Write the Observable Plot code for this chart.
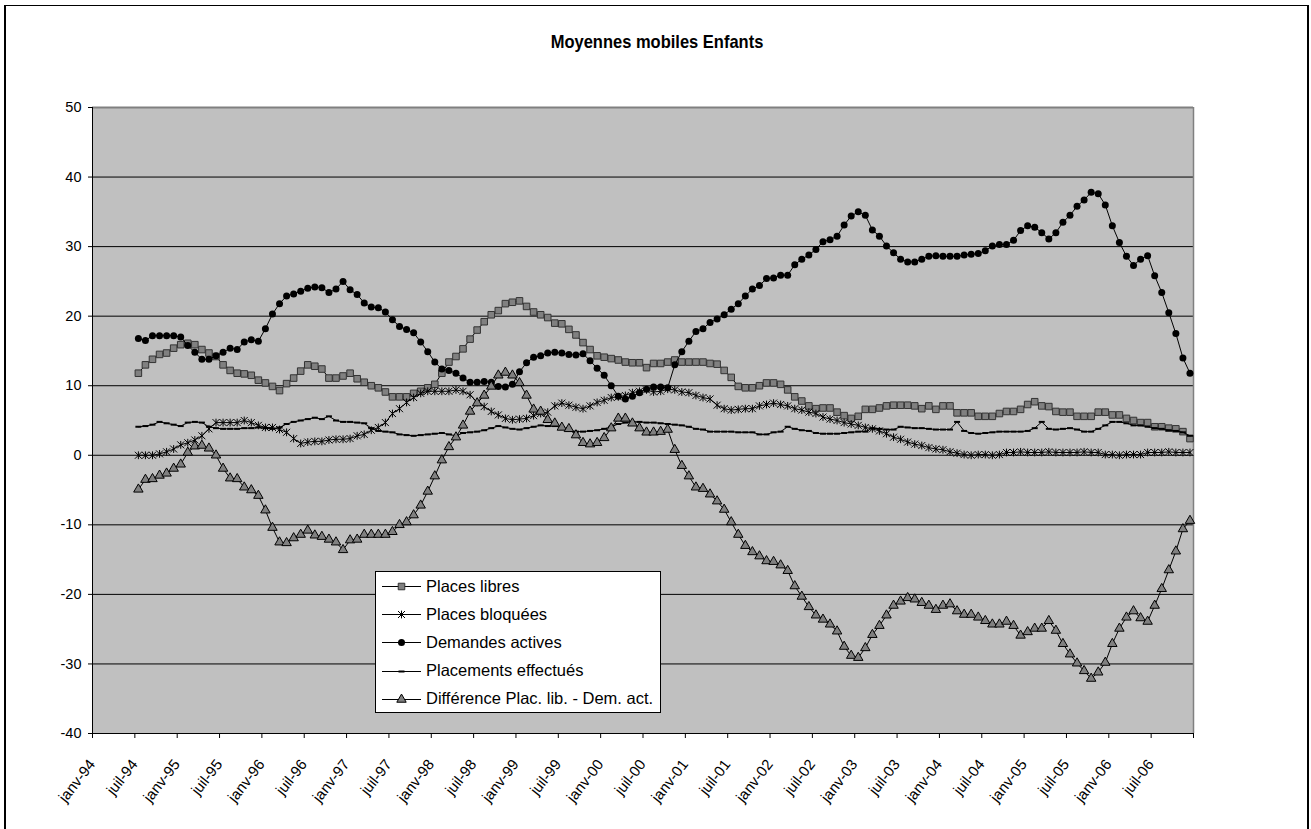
<!DOCTYPE html>
<html><head><meta charset="utf-8">
<script src="https://cdn.jsdelivr.net/npm/d3@7"></script>
<script src="https://cdn.jsdelivr.net/npm/@observablehq/plot@0.6"></script>
<style>
body{margin:0;background:#fff;font-family:Arial,"Liberation Sans",sans-serif;}
#wrap{position:relative;width:1311px;height:829px;overflow:hidden;}
#border{position:absolute;left:4px;top:5px;width:1305px;height:900px;border:1px solid #000;border-left-width:2px;border-right-width:2px;box-sizing:border-box;}
#title{position:absolute;left:0;top:31px;width:1314px;text-align:center;font-weight:bold;font-size:16.5px;line-height:20px;transform:scaleY(1.15);}
#chart{position:absolute;left:0;top:0;}
#legend{position:absolute;left:375px;top:571px;width:286px;height:142px;box-sizing:border-box;border:1px solid #000;background:#fff;}
#legend .row{position:absolute;left:0;height:24px;display:flex;align-items:center;}
#legend .row span{font-size:16.5px;margin-left:2px;white-space:nowrap;}
</style></head>
<body><div id="wrap"><div id="border"></div><div id="chart"></div><div id="title">Moyennes mobiles Enfants</div><div id="legend"></div></div>
<script>
// Months are indexed from janv-94 (0); the data start at juil-94 (index 6) and end at déc-06 (index 155).
const firstMonth = 6;
const tickLabels = ["janv-94","juil-94","janv-95","juil-95","janv-96","juil-96","janv-97","juil-97","janv-98","juil-98","janv-99","juil-99","janv-00","juil-00","janv-01","juil-01","janv-02","juil-02","janv-03","juil-03","janv-04","juil-04","janv-05","juil-05","janv-06","juil-06"];
const seriesNames = ["Places libres","Places bloquées","Demandes actives","Placements effectués","Différence Plac. lib. - Dem. act."];

const placesLibres = [
 11.8,13.0,13.8,14.5,14.7,15.4,15.9,16.1,15.9,15.2,14.7,14.2,13.0,12.2,11.8,11.7,11.5,10.8,10.4,9.9,9.3,10.3,11.1,12.1,13.0,12.8,
 12.4,11.1,11.1,11.4,11.8,11.0,10.5,10.0,9.7,9.1,8.4,8.4,8.4,8.9,9.2,9.7,10.2,11.8,13.4,14.2,15.3,16.7,18.0,19.2,20.2,20.8,21.8,22.0,22.2,21.4,20.6,
 20.2,19.8,19.0,18.9,18.1,17.3,16.2,15.2,14.3,14.1,13.9,13.7,13.4,13.3,13.3,12.6,13.2,13.2,13.4,13.7,13.4,13.4,13.4,13.4,13.2,13.1,12.2,11.2,9.9,9.7,9.7,
 10.0,10.4,10.4,10.2,9.4,8.4,7.8,7.1,6.7,6.8,6.8,6.2,5.7,5.3,5.6,6.6,6.6,6.8,7.1,7.2,7.2,7.2,7.1,6.7,7.1,6.6,7.1,7.1,6.1,6.1,6.1,
 5.6,5.6,5.6,6.0,6.3,6.3,6.6,7.3,7.7,7.1,7.0,6.3,6.2,6.2,5.6,5.6,5.6,6.2,6.2,5.8,5.8,5.3,5.0,4.7,4.7,4.1,4.1,3.9,3.8,3.4,2.4];
const placesBloquees = [
 0.0,0.0,0.0,0.2,0.5,0.9,1.5,1.8,2.2,2.8,3.8,4.7,4.7,4.7,4.7,5.0,4.7,4.3,4.0,4.0,3.7,3.3,2.4,1.7,1.9,2.0,
 2.0,2.2,2.3,2.3,2.4,2.8,3.0,3.6,4.0,4.7,6.0,6.7,7.6,8.3,8.9,9.2,9.2,9.2,9.2,9.4,9.2,8.7,7.6,7.0,6.3,5.8,5.3,5.1,5.2,5.3,5.7,
 6.0,6.2,7.1,7.5,7.2,6.9,6.7,7.1,7.6,7.9,8.3,8.4,8.6,9.0,9.2,9.4,9.1,9.2,9.5,9.4,9.1,9.0,8.6,8.3,8.1,7.2,6.7,6.5,6.6,6.7,6.7,
 7.1,7.3,7.5,7.3,7.1,6.7,6.5,6.2,6.0,5.5,5.2,5.0,4.7,4.5,4.3,4.0,3.8,3.5,3.1,2.6,2.3,1.9,1.6,1.4,1.1,0.9,0.8,0.5,0.3,0.1,0.0,
 0.1,0.1,0.0,0.1,0.4,0.4,0.5,0.4,0.4,0.4,0.5,0.4,0.4,0.4,0.4,0.5,0.4,0.4,0.1,0.1,0.0,0.1,0.1,0.1,0.4,0.4,0.4,0.5,0.4,0.4,0.4];
const demandesActives = [
 16.8,16.5,17.2,17.2,17.2,17.2,17.0,15.8,14.8,13.8,13.8,14.3,14.8,15.4,15.2,16.3,16.6,16.4,18.2,20.3,21.8,22.9,23.2,23.6,24.0,24.2,
 24.1,23.4,23.9,25.0,23.8,23.1,21.9,21.3,21.2,20.6,19.5,18.5,18.1,17.6,16.3,14.9,13.4,12.4,12.2,11.8,11.1,10.5,10.5,10.6,10.5,9.9,9.8,10.2,12.0,13.3,14.1,
 14.3,14.7,14.8,14.7,14.5,14.4,14.6,13.6,12.5,11.5,10.0,8.5,8.1,8.5,9.0,9.5,9.8,9.8,9.7,13.0,14.9,16.4,17.8,18.2,19.1,19.6,20.2,21.0,21.8,22.9,23.9,
 24.4,25.4,25.5,25.9,25.9,27.4,28.2,28.8,29.6,30.7,31.0,31.5,33.1,34.4,35.0,34.5,32.4,31.5,30.1,29.1,28.2,27.8,27.8,28.2,28.6,28.7,28.6,28.6,28.6,28.8,28.9,
 29.0,29.4,30.1,30.3,30.3,30.9,32.3,33.0,32.8,32.0,31.1,32.0,33.5,34.5,35.8,36.7,37.8,37.6,36.0,33.0,30.6,28.6,27.3,28.2,28.7,25.8,23.4,20.5,17.5,14.0,11.8];
const placementsEffectues = [
 4.1,4.2,4.4,4.8,4.6,4.4,4.2,4.7,4.8,4.7,4.1,3.9,3.8,3.8,3.8,3.9,3.9,4.0,3.9,3.8,4.0,4.5,4.8,5.0,5.2,5.4,
 5.2,5.6,5.0,4.8,4.8,4.7,4.6,3.9,3.5,3.4,3.3,3.0,2.9,2.8,2.9,3.0,3.1,3.2,3.0,2.8,3.2,3.3,3.4,3.6,3.9,4.2,4.0,3.8,3.7,3.9,4.1,
 4.3,4.2,4.2,4.0,3.5,3.4,3.4,3.5,3.6,3.8,4.1,4.5,4.7,4.8,4.8,4.7,4.7,4.6,4.5,4.4,4.3,4.1,3.8,3.7,3.4,3.4,3.4,3.4,3.3,3.3,3.3,
 3.0,3.0,3.3,3.4,4.1,3.8,3.6,3.5,3.2,3.1,3.1,3.1,3.2,3.3,3.4,3.4,3.9,3.8,3.7,3.7,4.1,4.0,3.9,3.9,3.8,3.7,3.7,3.7,4.8,3.5,3.2,
 3.1,3.2,3.3,3.4,3.4,3.4,3.4,3.5,3.9,4.8,3.8,3.7,3.8,3.9,3.7,3.4,3.4,3.8,4.3,4.8,4.8,4.6,4.3,4.3,4.1,3.9,3.8,3.6,3.5,3.3,2.8];
const difference = [
 -4.9,-3.5,-3.4,-2.9,-2.6,-1.9,-1.3,0.4,1.3,1.4,1.0,0.0,-1.9,-3.3,-3.4,-4.6,-5.0,-5.8,-7.9,-10.4,-12.5,-12.6,-11.9,-11.4,-10.8,-11.5,
 -11.7,-12.1,-12.5,-13.6,-12.2,-12.1,-11.4,-11.4,-11.4,-11.4,-11.0,-10.0,-9.6,-8.6,-7.2,-5.2,-3.0,-0.7,1.2,2.6,4.3,6.3,7.5,8.6,9.9,11.5,11.9,11.5,10.4,8.6,6.6,
 6.3,5.1,4.6,4.0,3.8,2.9,1.8,1.6,1.8,2.5,3.9,5.3,5.3,4.6,3.9,3.3,3.3,3.4,3.7,0.8,-1.5,-3.0,-4.6,-4.8,-5.6,-6.6,-7.8,-9.6,-11.4,-13.0,-13.9,
 -14.5,-15.2,-15.3,-15.8,-16.6,-18.8,-20.3,-21.8,-23.0,-23.6,-24.3,-25.3,-27.5,-28.8,-29.1,-27.7,-25.8,-24.5,-23.0,-21.6,-21.0,-20.5,-20.7,-21.2,-21.6,-22.2,-21.6,-21.4,-22.4,-22.9,-22.9,
 -23.3,-23.8,-24.3,-24.3,-23.9,-24.5,-25.9,-25.4,-24.9,-24.9,-23.8,-25.2,-27.1,-28.6,-29.9,-31.0,-32.1,-31.2,-29.8,-27.1,-24.9,-23.3,-22.4,-23.4,-23.9,-21.6,-19.2,-16.5,-13.8,-10.6,-9.4];

// Excel-like marker shapes
const starSym = {draw(ctx){ ctx.moveTo(0,-3.9); ctx.lineTo(0,3.9); ctx.moveTo(-3.5,-3.5); ctx.lineTo(3.5,3.5); ctx.moveTo(-3.5,3.5); ctx.lineTo(3.5,-3.5); }};
const dashSym = {draw(ctx){ ctx.rect(-3,-1,6,2); }};

const styles = [
  {values: placesLibres, symbol: "square", r: 3.7, fill: "#808080", stroke: "#333", strokeWidth: 1},
  {values: placesBloquees, symbol: starSym, r: 4, fill: "none", stroke: "#000", strokeWidth: 1},
  {values: demandesActives, symbol: "circle", r: 3.5, fill: "#000", stroke: "none", strokeWidth: 0},
  {values: placementsEffectues, symbol: dashSym, r: 3, fill: "#000", stroke: "none", strokeWidth: 0},
  {values: difference, symbol: "triangle", r: 3.5, fill: "#808080", stroke: "#000", strokeWidth: 1}
];

const marks = [
  Plot.frame({fill: "#C0C0C0", stroke: null}),
  Plot.ruleY(d3.range(-30, 50, 10), {stroke: "#000", strokeWidth: 1}),
  Plot.ruleY([50], {stroke: "#808080", strokeWidth: 2}),
  Plot.ruleX([156], {stroke: "#808080", strokeWidth: 1.5}),
  Plot.ruleX([0], {stroke: "#000"}),
  Plot.ruleY([-40], {stroke: "#000"}),
  Plot.axisY({ticks: d3.range(-40, 51, 10), tickSize: 4, tickPadding: 7, tickFormat: d => String(d), fontSize: 14.5, label: null}),
  Plot.axisX({ticks: d3.range(0, 157, 6), tickSize: 5, tickFormat: () => "", label: null}),
  Plot.text(tickLabels, {x: (d, i) => i * 6, frameAnchor: "bottom", text: d => d, rotate: -52, textAnchor: "end", lineAnchor: "bottom", dx: 3.5, dy: 31, fontSize: 15, fill: "#000"})
];
for (const s of styles) {
  const data = s.values.map((v, k) => ({m: firstMonth + k + 0.5, v}));
  marks.push(Plot.line(data, {x: "m", y: "v", stroke: "#000", strokeWidth: 1}));
  marks.push(Plot.dot(data, {x: "m", y: "v", symbol: s.symbol, r: s.r, fill: s.fill, stroke: s.stroke, strokeWidth: s.strokeWidth}));
}

const chart = Plot.plot({
  width: 1311, height: 829,
  marginLeft: 92, marginRight: 118, marginTop: 107, marginBottom: 96,
  x: {type: "linear", domain: [0, 156], label: null},
  y: {domain: [-40, 50], label: null},
  style: {background: "transparent", fontFamily: "Arial, 'Liberation Sans', sans-serif", fontSize: "14px", color: "#000"},
  marks
});
document.getElementById("chart").appendChild(chart);

// Legend (HTML box with small SVG samples)
const legend = document.getElementById("legend");
seriesNames.forEach((name, k) => {
  const s = styles[k];
  const row = document.createElement("div");
  row.className = "row";
  row.style.top = (2 + k * 28.2) + "px";
  const svg = d3.create("svg").attr("width", 48).attr("height", 24);
  svg.append("line").attr("x1", 6).attr("x2", 45).attr("y1", 12.5).attr("y2", 12.5).attr("stroke", "#000");
  const sym = typeof s.symbol === "string"
    ? d3.symbol(s.symbol === "square" ? d3.symbolSquare : s.symbol === "circle" ? d3.symbolCircle : d3.symbolTriangle, Math.PI * s.r * s.r)
    : d3.symbol(s.symbol, 0);
  svg.append("path").attr("d", sym()).attr("transform", "translate(25.5,12.5)")
    .attr("fill", s.fill).attr("stroke", s.stroke).attr("stroke-width", s.strokeWidth);
  row.appendChild(svg.node());
  const t = document.createElement("span");
  t.textContent = name;
  row.appendChild(t);
  legend.appendChild(row);
});
</script>
</body></html>
